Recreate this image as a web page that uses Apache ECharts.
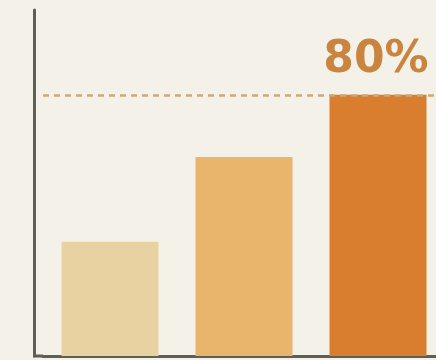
<!DOCTYPE html>
<html>
<head>
<meta charset="utf-8">
<script src="https://cdn.jsdelivr.net/npm/echarts@6/dist/echarts.min.js"></script>
<style>
  html, body { margin: 0; padding: 0; background: #f4f1e8; }
  #chart { width: 436px; height: 360px; }
</style>
</head>
<body>
<div id="chart"></div>
<script>
var categories = ['A', 'B', 'C'];
var values = [35, 61, 80];
var barColors = ['#e8d2a2', '#e9b46c', '#d97e2e'];
var targetValue = 80;

var chart = echarts.init(document.getElementById('chart'));

var gridLeft = 43, gridBottom = 4;

var option = {
  backgroundColor: '#f4f1e8',
  animation: false,
  grid: { left: gridLeft, width: 402, top: 10, bottom: gridBottom, outerBoundsMode: 'none' },
  xAxis: {
    type: 'category',
    data: categories,
    axisLine: { lineStyle: { color: '#5f5e55', width: 3 } },
    axisTick: { show: false },
    axisLabel: { show: false }
  },
  yAxis: {
    type: 'value',
    min: 0,
    max: 106,
    offset: 9,
    axisLine: { show: true, lineStyle: { color: '#5f5e55', width: 3 } },
    axisTick: { show: false },
    axisLabel: { show: false },
    splitLine: { show: false }
  },
  series: [{
    type: 'bar',
    barWidth: 97,
    data: values.map(function (v, i) {
      var item = { value: v, itemStyle: { color: barColors[i] } };
      if (v === targetValue) {
        item.label = {
          show: true,
          position: 'top',
          distance: 12,
          offset: [-2, 0],
          formatter: v + '%',
          fontFamily: 'DejaVu Sans',
          fontWeight: 'bold',
          fontSize: 44,
          color: '#c98540'
        };
      }
      return item;
    }),
    markLine: {
      silent: true,
      symbol: 'none',
      label: { show: false },
      lineStyle: { color: '#c9a87a', type: [6, 5], width: 2.5 },
      data: [{ yAxis: targetValue }]
    }
  }],
  // short piece of the bottom axis under the offset y axis
  graphic: [{
    type: 'line',
    shape: { x1: gridLeft - 10, y1: 360 - gridBottom, x2: gridLeft, y2: 360 - gridBottom },
    style: { stroke: '#5f5e55', lineWidth: 3 }
  }]
};

chart.setOption(option);
</script>
</body>
</html>
